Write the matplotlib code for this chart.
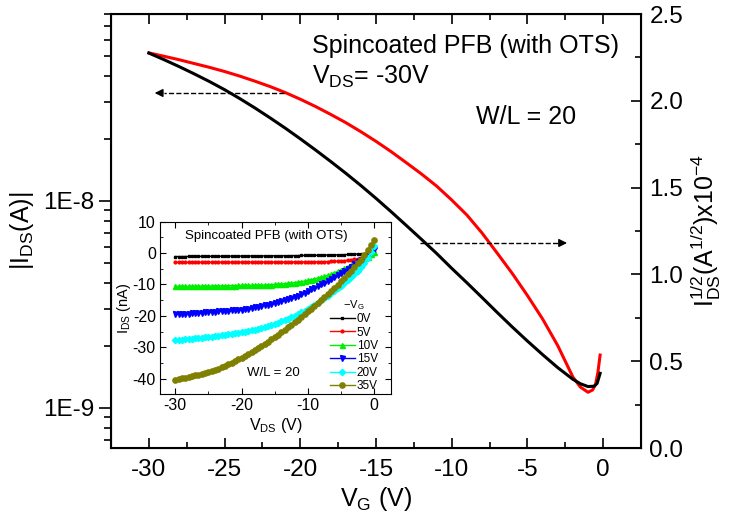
import numpy as np
import matplotlib
matplotlib.use('Agg')
import matplotlib.pyplot as plt
from matplotlib.ticker import FixedLocator, MultipleLocator, LogLocator, NullFormatter, FixedFormatter

plt.rcParams['font.family'] = ['Liberation Sans', 'DejaVu Sans']
plt.rcParams['mathtext.fontset'] = 'custom'
plt.rcParams['mathtext.rm'] = 'Liberation Sans'
plt.rcParams['mathtext.it'] = 'Liberation Sans:italic'
plt.rcParams['axes.unicode_minus'] = False

# Curva de transferencia (V_DS = -30 V), |I_DS| en A (eje log, roja)
vg_red = [-30, -29, -28, -27, -26, -25, -24, -23, -22, -21,
          -20, -19, -18, -17, -16, -15, -14, -13, -12, -11,
          -10, -9, -8, -7, -6, -5, -4, -3, -2,
          -1.5, -1, -0.7, -0.5, -0.35, -0.2]
ids_log = [5.19e-8, 5.00e-8, 4.81e-8, 4.61e-8, 4.42e-8, 4.22e-8, 4.01e-8, 3.79e-8, 3.57e-8, 3.34e-8,
           3.10e-8, 2.86e-8, 2.62e-8, 2.39e-8, 2.16e-8, 1.94e-8, 1.73e-8, 1.53e-8, 1.35e-8, 1.18e-8,
           1.01e-8, 8.55e-9, 7.00e-9, 5.60e-9, 4.46e-9, 3.49e-9, 2.69e-9, 2.00e-9, 1.41e-9,
           1.26e-9, 1.19e-9, 1.22e-9, 1.30e-9, 1.48e-9, 1.80e-9]

# I_DS^(1/2) en 1e-4 A^(1/2) (eje derecho, negra)
vg_blk = [-30, -29, -28, -27, -26, -25, -24, -23, -22, -21,
          -20, -19, -18, -17, -16, -15, -14, -13, -12, -11,
          -10, -9, -8, -7, -6, -5, -4, -3, -2,
          -1.5, -1, -0.6, -0.4, -0.2]
ids_sqrt = [2.275, 2.237, 2.197, 2.155, 2.111, 2.064, 2.013, 1.959, 1.902, 1.843,
            1.781, 1.717, 1.651, 1.583, 1.512, 1.438, 1.361, 1.282, 1.202, 1.121,
            1.035, 0.952, 0.867, 0.781, 0.697, 0.616, 0.538, 0.463, 0.396,
            0.370, 0.354, 0.356, 0.372, 0.43]

# Inset: curvas de salida, I_DS en nA, V_DS de -30 a 0 cada 0.5 V
vds = np.arange(-30, 0.25, 0.5)
vg_labels = ['0V', '5V', '10V', '15V', '20V', '35V']
i_0v = [-1.1, -1.1, -1.1, -1.09, -1.08, -1.07, -1.06, -1.055, -1.05, -1.04,
        -1.03, -1.025, -1.02, -1.01, -1.0, -0.99, -0.98, -0.975, -0.97, -0.96,
        -0.95, -0.94, -0.93, -0.925, -0.92, -0.91, -0.9, -0.89, -0.88, -0.87,
        -0.86, -0.85, -0.84, -0.83, -0.82, -0.81, -0.8, -0.785, -0.77, -0.755,
        -0.74, -0.72, -0.7, -0.68, -0.66, -0.64, -0.62, -0.595, -0.57, -0.545,
        -0.52, -0.485, -0.45, -0.405, -0.36, -0.305, -0.25, -0.175, -0.1, 0.0,
        0.1]
i_5v = [-2.95, -2.95, -2.95, -2.95, -2.94, -2.94, -2.94, -2.94, -2.93, -2.93,
        -2.93, -2.93, -2.92, -2.92, -2.92, -2.92, -2.91, -2.91, -2.9, -2.9,
        -2.9, -2.9, -2.89, -2.89, -2.88, -2.88, -2.88, -2.88, -2.87, -2.87,
        -2.86, -2.86, -2.85, -2.85, -2.84, -2.84, -2.83, -2.83, -2.82, -2.81,
        -2.8, -2.79, -2.78, -2.77, -2.75, -2.73, -2.7, -2.66, -2.62, -2.56,
        -2.5, -2.41, -2.3, -2.16, -2.0, -1.81, -1.6, -1.27, -0.9, -0.35,
        0.2]
i_10v = [-10.6, -10.6, -10.6, -10.6, -10.6, -10.58, -10.55, -10.52, -10.5, -10.5,
         -10.5, -10.48, -10.45, -10.42, -10.4, -10.4, -10.4, -10.38, -10.35, -10.32,
         -10.3, -10.3, -10.3, -10.28, -10.25, -10.22, -10.2, -10.15, -10.1, -10.05,
         -10.0, -9.93, -9.85, -9.75, -9.65, -9.53, -9.4, -9.25, -9.1, -8.9,
         -8.7, -8.45, -8.2, -7.95, -7.7, -7.4, -7.1, -6.7, -6.3, -5.85,
         -5.4, -4.85, -4.3, -3.8, -3.3, -2.8, -2.3, -1.7, -1.1, -0.45,
         0.2]
i_15v = [-19.4, -19.38, -19.35, -19.32, -19.3, -19.25, -19.2, -19.1, -19.0, -18.9,
         -18.8, -18.75, -18.7, -18.6, -18.5, -18.4, -18.3, -18.25, -18.2, -18.1,
         -18.0, -17.85, -17.7, -17.5, -17.3, -17.1, -16.9, -16.7, -16.5, -16.25,
         -16.0, -15.7, -15.4, -15.05, -14.7, -14.35, -14.0, -13.55, -13.1, -12.6,
         -12.1, -11.6, -11.1, -10.55, -10.0, -9.45, -8.9, -8.3, -7.7, -7.05,
         -6.4, -5.7, -5.0, -4.3, -3.6, -2.85, -2.1, -1.25, -0.4, 0.5,
         1.4]
i_20v = [-27.7, -27.65, -27.6, -27.5, -27.4, -27.3, -27.2, -27.1, -27.0, -26.9,
         -26.8, -26.65, -26.5, -26.35, -26.2, -26.05, -25.9, -25.75, -25.6, -25.4,
         -25.2, -25.0, -24.8, -24.6, -24.4, -24.15, -23.9, -23.6, -23.3, -22.95,
         -22.6, -22.2, -21.8, -21.35, -20.9, -20.4, -19.9, -19.4, -18.9, -18.35,
         -17.8, -17.15, -16.5, -15.8, -15.1, -14.35, -13.6, -12.85, -12.1, -11.25,
         -10.4, -9.55, -8.7, -7.7, -6.7, -5.6, -4.5, -3.1, -1.6, 0.2,
         2.1]
i_35v = [-40.3, -40.1, -39.9, -39.7, -39.5, -39.25, -39.0, -38.75, -38.5, -38.2,
         -37.9, -37.55, -37.2, -36.8, -36.4, -35.95, -35.5, -34.95, -34.4, -33.85,
         -33.3, -32.7, -32.1, -31.5, -30.9, -30.25, -29.6, -28.9, -28.2, -27.5,
         -26.8, -26.05, -25.3, -24.5, -23.7, -22.9, -22.1, -21.25, -20.4, -19.5,
         -18.6, -17.7, -16.8, -15.85, -14.9, -13.95, -13.0, -12.05, -11.1, -10.05,
         -9.0, -7.9, -6.8, -5.65, -4.5, -3.3, -2.1, -0.6, 1.0, 2.6,
         4.3]

fig = plt.figure(figsize=(7.29, 5.23), dpi=100)
ax = fig.add_axes([0.1523, 0.1434, 0.7270, 0.8298])

# Curva roja en escala log
ax.plot(vg_red, ids_log, color='red', lw=2.2, solid_joinstyle='round')
ax.set_yscale('log')
ax.set_xlim(-32.5, 2.5)
ax.set_ylim(6.4e-10, 8.0e-8)
ax.yaxis.set_major_locator(FixedLocator([1e-9, 1e-8]))
ax.yaxis.set_major_formatter(FixedFormatter(['1E-9', '1E-8']))
ax.yaxis.set_minor_locator(LogLocator(base=10, subs=np.arange(2, 10)))
ax.yaxis.set_minor_formatter(NullFormatter())
ax.xaxis.set_major_locator(MultipleLocator(5))
ax.xaxis.set_minor_locator(MultipleLocator(2.5))
ax.tick_params(axis='x', which='both', direction='in', top=True, labelsize=17.5, pad=8)
ax.tick_params(axis='x', which='major', length=7, width=1.2)
ax.tick_params(axis='x', which='minor', length=4, width=1.2)
ax.tick_params(axis='y', which='major', direction='out', length=9, width=1.2, labelsize=17.5, pad=3)
ax.tick_params(axis='y', which='minor', direction='out', length=5, width=1.2)
ax.set_xlabel(r'$\mathregular{V_G}$ (V)', fontsize=18, labelpad=3)
ax.set_ylabel(r'$\mathregular{|I_{DS}(A)|}$', fontsize=18, labelpad=5)
for s in ax.spines.values():
    s.set_linewidth(1.5)

# Curva negra en eje derecho
ax2 = ax.twinx()
ax2.plot(vg_blk, ids_sqrt, color='black', lw=2.2, solid_joinstyle='round')
ax2.set_ylim(0, 2.5)
ax2.yaxis.set_major_locator(MultipleLocator(0.5))
ax2.yaxis.set_minor_locator(MultipleLocator(0.25))
ax2.yaxis.set_major_formatter(plt.FormatStrFormatter('%.1f'))
ax2.tick_params(axis='y', which='major', direction='in', length=7, width=1.2, labelsize=17.5, pad=6)
ax2.tick_params(axis='y', which='minor', direction='in', length=4, width=1.2)
ax2.set_ylabel(r'$\mathregular{I^{1/2}_{DS}(A^{1/2})x10^{-4}}$', fontsize=18, labelpad=4)

# Flechas punteadas
ax2.plot([-21.1, -29.0], [2.045, 2.045], 'k--', lw=1)
ax2.annotate('', xy=(-29.8, 2.045), xytext=(-28.9, 2.045),
             arrowprops=dict(arrowstyle='-|>', color='k', lw=1, mutation_scale=12))
ax2.plot([-12.1, -2.9], [1.181, 1.181], 'k--', lw=1)
ax2.annotate('', xy=(-2.2, 1.181), xytext=(-3.1, 1.181),
             arrowprops=dict(arrowstyle='-|>', color='k', lw=1, mutation_scale=12))

fig.text(0.428, 0.8987, 'Spincoated PFB (with OTS)', fontsize=18, va='baseline')
fig.text(0.428, 0.8394, r'$\mathregular{V_{DS}}$= -30V', fontsize=18, va='baseline')
fig.text(0.653, 0.7629, 'W/L = 20', fontsize=18, va='baseline')

# Inset
axi = fig.add_axes([0.2195, 0.2461, 0.3165, 0.3300])
markers = ['s', 'o', '^', 'v', 'D', 'o']
msizes = [2, 2, 3.6, 3.6, 3.2, 3.8]
colors = ['black', 'red', '#00ee00', '#0000ff', '#00ffff', '#808000']
series = [i_0v, i_5v, i_10v, i_15v, i_20v, i_35v]
for ys, lab, m, ms, c in zip(series, vg_labels, markers, msizes, colors):
    axi.plot(vds, ys, color=c, marker=m, ms=ms, lw=1, mec=c, label=lab)
axi.set_xlim(-32.3, 2.5)
axi.set_ylim(-45, 10)
axi.xaxis.set_major_locator(MultipleLocator(10))
axi.xaxis.set_minor_locator(MultipleLocator(5))
axi.yaxis.set_major_locator(MultipleLocator(10))
axi.yaxis.set_minor_locator(MultipleLocator(5))
axi.tick_params(which='both', direction='in', top=True, right=True, labelsize=11.5, pad=3)
axi.tick_params(which='major', length=4)
axi.tick_params(which='minor', length=2.5)
axi.set_xlabel(r'$\mathregular{V_{DS}}$ (V)', fontsize=11.5, labelpad=2)
axi.set_ylabel(r'$\mathregular{I_{DS}}$ (nA)', fontsize=10.5, labelpad=0)
axi.text(0.46, 0.92, 'Spincoated PFB (with OTS)', transform=axi.transAxes,
         fontsize=9.5, ha='center', va='center')
axi.text(0.49, 0.123, 'W/L = 20', transform=axi.transAxes,
         fontsize=9.5, ha='center', va='center')
leg = axi.legend(title=r'$\mathregular{-V_G}$', loc='lower right', frameon=False,
                 fontsize=8.5, title_fontsize=8, numpoints=1, handlelength=2.1,
                 labelspacing=0.12, handletextpad=0.2, borderpad=0,
                 borderaxespad=0, bbox_to_anchor=(0.945, 0.012))

fig.savefig('out.png', dpi=100)
